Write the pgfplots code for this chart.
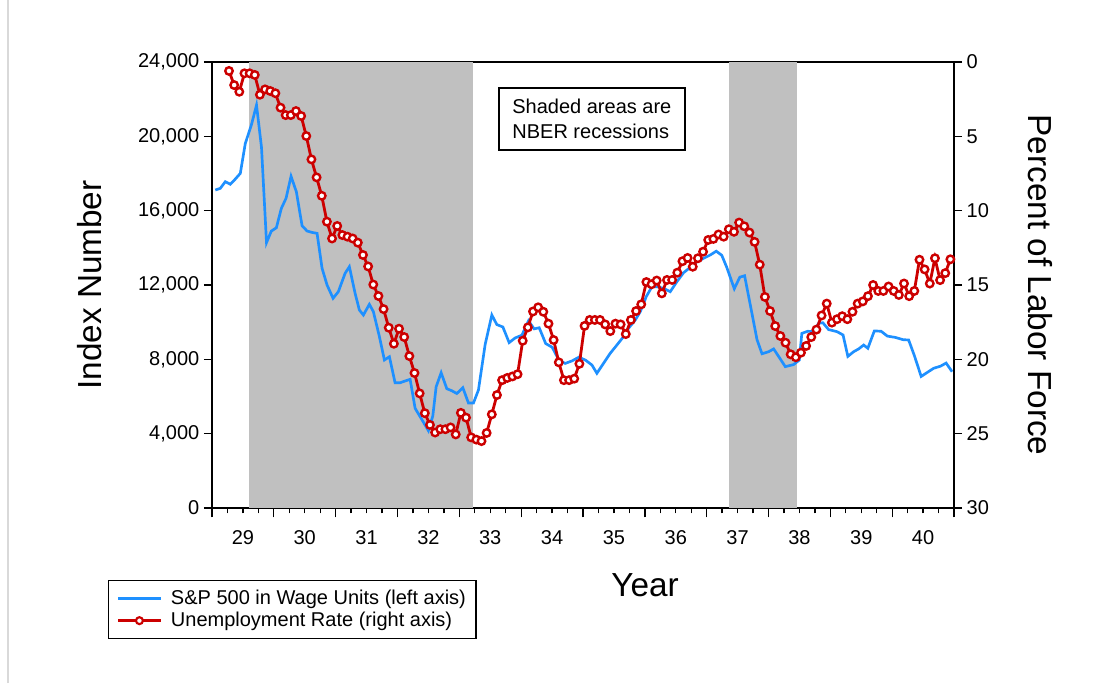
\documentclass[border=0pt]{standalone}
\usepackage{fontspec}
\setmainfont{Liberation Sans}
\usepackage{pgfplots}
\usepackage{pgfplotstable}
\pgfplotsset{compat=1.18}
\definecolor{spblue}{RGB}{30,144,255}
\definecolor{unred}{RGB}{204,0,0}
\definecolor{recgray}{RGB}{192,192,192}

\pgfplotstableread{
m v
0.64 17110
1.61 17200
2.58 17560
3.55 17420
4.52 17700
5.50 18010
6.47 19625
7.63 20600
8.64 21680
9.61 19400
10.58 14280
11.51 14900
12.49 15080
13.46 16125
14.37 16665
15.34 17850
16.37 17020
17.48 15190
18.45 14905
19.42 14830
20.39 14780
21.36 12900
22.33 12000
23.50 11285
24.52 11640
25.83 12630
26.66 12985
27.77 11555
28.60 10655
29.38 10385
30.54 10960
31.32 10565
32.49 9220
33.46 7965
34.43 8140
35.53 6740
36.50 6740
37.48 6835
38.45 6925
39.42 5365
40.39 4915
41.36 4465
42.00 4160
42.85 4950
43.50 6525
44.47 7280
45.57 6420
46.54 6310
47.51 6160
48.68 6475
49.77 5650
50.74 5650
51.71 6350
53.01 8800
54.31 10385
55.28 9870
56.45 9740
57.67 8900
58.83 9150
60.14 9300
61.42 10070
62.52 9640
63.50 9700
64.76 8850
66.02 8650
67.34 7950
68.54 7780
69.90 7920
71.22 8120
72.52 7950
73.73 7695
74.70 7250
75.98 7785
77.28 8325
78.58 8770
79.86 9220
80.83 9670
82.14 10115
83.11 10565
84.27 11370
85.38 11910
86.35 11910
87.63 11820
88.93 11640
90.23 12180
91.51 12660
92.82 12950
94.12 13255
95.40 13435
96.70 13615
97.86 13820
98.93 13600
99.90 12950
101.36 11800
102.43 12420
103.36 12500
104.47 10925
105.77 9060
106.74 8300
108.02 8410
109.00 8560
110.10 8100
111.26 7605
112.87 7720
113.98 7960
114.47 9400
115.63 9510
116.76 9490
117.73 9940
118.54 9970
119.67 9600
121.30 9490
122.47 9310
123.40 8160
124.52 8410
125.49 8560
126.47 8770
127.28 8595
128.54 9530
129.86 9510
131.07 9250
132.62 9180
134.08 9060
135.20 9040
136.31 8200
137.63 7080
138.78 7290
140.06 7520
141.36 7630
142.47 7800
143.63 7335
}\sptable

\pgfplotstableread{
m u
3.3 0.6
4.3 1.55
5.3 2.0
6.3 0.76
7.3 0.76
8.3 0.87
9.3 2.2
10.3 1.84
11.3 1.95
12.3 2.1
13.3 3.07
14.3 3.57
15.3 3.57
16.3 3.3
17.3 3.63
18.3 4.98
19.3 6.55
20.3 7.76
21.3 9.0
22.3 10.74
23.3 11.87
24.3 11.03
25.3 11.64
26.3 11.75
27.3 11.87
28.3 12.15
29.3 12.98
30.3 13.75
31.3 14.97
32.3 15.74
33.3 16.62
34.3 17.87
35.3 18.95
36.3 17.94
37.3 18.5
38.3 19.78
39.3 20.92
40.3 22.29
41.3 23.62
42.3 24.41
43.3 24.92
44.3 24.7
45.3 24.7
46.3 24.58
47.3 25.05
48.3 23.6
49.3 23.92
50.3 25.25
51.3 25.4
52.3 25.5
53.3 24.95
54.3 23.7
55.3 22.4
56.3 21.4
57.3 21.25
58.3 21.15
59.3 21.0
60.3 18.75
61.3 17.85
62.3 16.78
63.3 16.5
64.3 16.8
65.3 17.6
66.3 18.7
67.3 20.2
68.3 21.4
69.3 21.4
70.3 21.3
71.3 20.3
72.3 17.75
73.3 17.35
74.3 17.35
75.3 17.35
76.3 17.65
77.3 18.1
78.3 17.6
79.3 17.65
80.3 18.3
81.3 17.35
82.3 16.75
83.3 16.3
84.3 14.8
85.3 14.95
86.3 14.7
87.3 15.56
88.3 14.66
89.3 14.66
90.3 14.17
91.3 13.4
92.3 13.18
93.3 13.77
94.3 13.2
95.3 12.76
96.3 11.97
97.3 11.9
98.3 11.6
99.3 11.75
100.3 11.25
101.3 11.42
102.3 10.8
103.3 11.05
104.3 11.47
105.3 12.1
106.3 13.63
107.3 15.8
108.3 16.75
109.3 17.76
110.3 18.43
111.3 18.88
112.3 19.66
113.3 19.86
114.3 19.55
115.3 19.1
116.3 18.5
117.3 18.0
118.3 17.05
119.3 16.25
120.3 17.53
121.3 17.3
122.3 17.1
123.3 17.3
124.3 16.8
125.3 16.25
126.3 16.1
127.3 15.75
128.3 15.0
129.3 15.4
130.3 15.4
131.3 15.1
132.3 15.4
133.3 15.67
134.3 14.9
135.3 15.75
136.3 15.4
137.3 13.3
138.3 13.95
139.3 14.9
140.3 13.2
141.3 14.67
142.3 14.2
143.3 13.27
}\urtable

\pgfplotsset{
  basestyle/.style={
    scale only axis, width=556.5pt, height=334.5pt,
    xmin=0, xmax=144,
    tick align=outside,
    tick style={black, line width=1pt},
    axis line style={black, line width=0.9pt},
    tick label style={font=\fontsize{15}{17}\selectfont},
    /pgf/number format/assume math mode=true,
  }
}

\begin{document}
\begin{tikzpicture}
\path[use as bounding box] (-159pt,-131.25pt) rectangle (673.5pt,381pt);
\draw[black!15, line width=1pt] (-153pt,-131.25pt) -- (-153pt,381pt);
\begin{axis}[
  basestyle,
  ymin=0, ymax=24000,
  major tick length=4pt,
  xtick={0,3,...,144},
  xticklabels={},
  extra x ticks={0,12,...,144},
  extra x tick labels={},
  extra x tick style={major tick length=7pt},
  xtick pos=bottom,
  ytick=\empty,
  extra y ticks={0,4000,...,24000},
  extra y tick style={major tick length=6pt, ytick pos=left},
  ytick pos=left,
  scaled y ticks=false,
  /pgf/number format/1000 sep={,},
  every axis y label/.style={at={(axis description cs:-0.1644,0.5)}, rotate=90, anchor=center, font=\fontsize{25}{28}\selectfont},
  every axis x label/.style={at={(axis description cs:0.5836,-0.1726)}, anchor=center, font=\fontsize{25}{28}\selectfont},
  ylabel={Index Number},
  xlabel={Year},
  legend style={at={(axis description cs:-0.1402,-0.1614)}, anchor=north west,
    draw=black, line width=0.9pt, font=\fontsize{15}{17}\selectfont,
    inner xsep=6pt, inner ysep=5.5pt, row sep=1.5pt,
    nodes={inner sep=1.5pt}},
  legend cell align=left,
  legend image code/.code={\draw[mark repeat=2,mark phase=2,#1] plot coordinates {(0pt,0pt) (16pt,0pt) (32pt,0pt)};},
]
\fill[recgray] (axis cs:7.2,0) rectangle (axis cs:50.7,24000);
\fill[recgray] (axis cs:100.3,0) rectangle (axis cs:113.6,24000);
\addlegendimage{spblue, line width=2.3pt}
\addlegendentry{\hspace{5pt}S\&P 500 in Wage Units (left axis)}
\addlegendimage{unred, line width=1.9pt, mark=*, mark size=2.6pt, mark options={fill=white, draw=unred, line width=1.6pt}}
\addlegendentry{\hspace{5pt}Unemployment Rate (right axis)}
\addplot[spblue, line width=2pt, forget plot] table[x=m,y=v] {\sptable};
\node[draw=black, line width=0.9pt, fill=white, align=left, minimum width=139.5pt, minimum height=46.5pt, font=\fontsize{15}{18.75}\selectfont] at (axis description cs:0.512,0.872) {Shaded areas are\\NBER recessions};
\end{axis}
\begin{axis}[
  basestyle,
  ymin=0, ymax=30, y dir=reverse,
  major tick length=6pt,
  axis x line*=bottom,
  x axis line style={draw=none},
  xtick={6,18,...,138},
  xticklabels={29,30,31,32,33,34,35,36,37,38,39,40},
  x tick style={draw=none},
  xticklabel style={yshift=-7pt},
  axis y line*=right,
  ytick={0,5,...,30},
  every axis y label/.style={at={(axis description cs:1.116,0.5)}, rotate=-90, anchor=center, font=\fontsize{25}{28}\selectfont},
  ylabel={Percent of Labor Force},
]
\addplot[unred, line width=2.1pt, mark=*, mark size=2.8pt, mark options={fill=white, draw=unred, line width=1.8pt}] table[x=m,y=u] {\urtable};
\end{axis}
\end{tikzpicture}
\end{document}
